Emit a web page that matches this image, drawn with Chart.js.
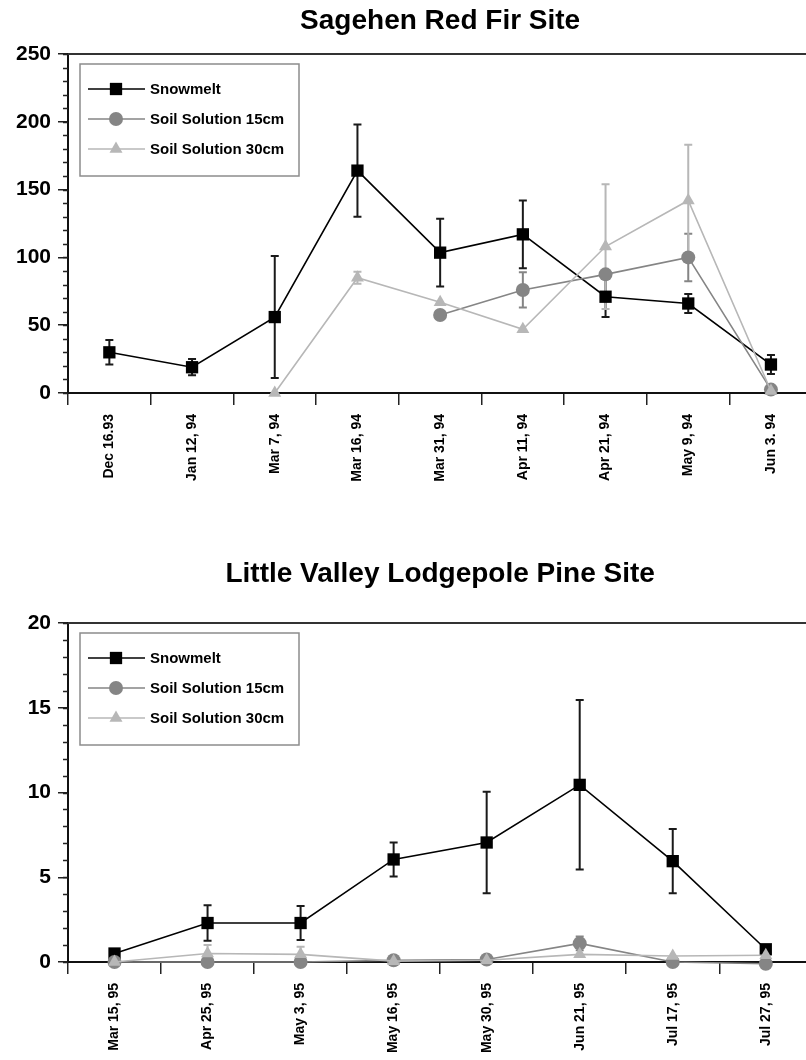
<!DOCTYPE html>
<html lang="en">
<head>
    <meta charset="UTF-8">
    <title>Sagehen / Little Valley</title>
    <script src="https://cdn.jsdelivr.net/npm/chart.js"></script>
    <style>
        body {
            margin: 0;
            background: #fff;
            font-family: "Liberation Sans", Arial, sans-serif;
        }
        .wrap {
            width: 806px;
            height: 530px;
            overflow: hidden;
        }
        canvas {
            display: block;
        }
    </style>
</head>
<body>
    <div class="wrap"><canvas id="sagehen" width="821" height="530" style="width:821px;height:530px"></canvas></div>
    <div class="wrap"><canvas id="littleValley" width="821" height="530" style="width:821px;height:530px"></canvas></div>
    <script>
        const seriesNames = ['Snowmelt', 'Soil Solution 15cm', 'Soil Solution 30cm'];

        // Sagehen Red Fir Site
        const sageDates = ['Dec 16.93', 'Jan 12, 94', 'Mar 7, 94', 'Mar 16, 94', 'Mar 31, 94',
                           'Apr 11, 94', 'Apr 21, 94', 'May 9, 94', 'Jun 3. 94'];
        const sageSnow = [30, 19, 56, 164, 103.5, 117, 71, 66, 21];
        const sageSnowErr = [9, 6, 45, 34, 25, 25, 15, 7, 7];
        const sageSoil15 = [null, null, null, null, 57.5, 76, 87.5, 100, 2.5];
        const sageSoil15Err = [null, null, null, null, 0, 13, 0, 17.5, 0];
        const sageSoil30 = [null, null, 0, 85, 67, 47, 108, 142, 1.5];
        const sageSoil30Err = [null, null, 0, 4.5, 0, 0, 46, 41, 0];
        const sageTicks = [0, 50, 100, 150, 200, 250];

        // Little Valley Lodgepole Pine Site
        const lvDates = ['Mar 15, 95', 'Apr 25, 95', 'May 3, 95', 'May 16, 95',
                         'May 30, 95', 'Jun 21, 95', 'Jul 17, 95', 'Jul 27, 95'];
        const lvSnow = [0.5, 2.3, 2.3, 6.05, 7.05, 10.45, 5.95, 0.75];
        const lvSnowErr = [0, 1.05, 1.0, 1.0, 3.0, 5.0, 1.9, 0];
        const lvSoil15 = [0, 0, 0, 0.1, 0.15, 1.1, 0, -0.1];
        const lvSoil15Err = [0, 0, 0, 0, 0, 0.4, 0, 0];
        const lvSoil30 = [0, 0.5, 0.45, 0.05, 0.1, 0.45, 0.35, 0.4];
        const lvSoil30Err = [0, 0.5, 0.45, 0, 0, 0, 0, 0];
        const lvTicks = [0, 5, 10, 15, 20];

        const FONT = '"Liberation Sans", Arial, sans-serif';
        const colors = ['#000000', '#858585', '#b7b7b7'];
        const styles = [
            { pointStyle: 'rect', radius: 8.7 },
            { pointStyle: 'circle', radius: 7 },
            { pointStyle: 'triangle', radius: 7.5 }
        ];

        // title, frame, minor ticks, error bars and the boxed legend
        const deco = {
            id: 'deco',
            beforeDatasetsDraw(chart, args, opts) {
                const ctx = chart.ctx;
                const y = chart.scales.y;
                ctx.save();
                chart.data.datasets.forEach((ds, i) => {
                    const meta = chart.getDatasetMeta(i);
                    ds.data.forEach((v, j) => {
                        const e = ds.err[j];
                        if (v == null || !e) return;
                        const x = meta.data[j].x;
                        const yTop = y.getPixelForValue(v + e);
                        const yBot = y.getPixelForValue(v - e);
                        ctx.strokeStyle = i === 0 ? '#1a1a1a' : ds.borderColor;
                        ctx.lineWidth = 2;
                        ctx.beginPath();
                        ctx.moveTo(x, yTop);
                        ctx.lineTo(x, yBot);
                        ctx.moveTo(x - 4, yTop);
                        ctx.lineTo(x + 4, yTop);
                        ctx.moveTo(x - 4, yBot);
                        ctx.lineTo(x + 4, yBot);
                        ctx.stroke();
                    });
                });
                ctx.restore();
            },
            afterDraw(chart, args, opts) {
                const ctx = chart.ctx;
                const area = chart.chartArea;
                const y = chart.scales.y;
                ctx.save();

                // title, centred over the plot
                ctx.fillStyle = '#000';
                ctx.font = 'bold 28px ' + FONT;
                ctx.textAlign = 'center';
                ctx.textBaseline = 'middle';
                ctx.fillText(opts.title, (area.left + area.right) / 2, opts.titleY);

                // top frame line
                ctx.strokeStyle = '#333';
                ctx.lineWidth = 2;
                ctx.beginPath();
                ctx.moveTo(area.left, area.top);
                ctx.lineTo(area.right, area.top);
                ctx.stroke();

                // minor ticks on the y axis
                ctx.strokeStyle = '#222';
                ctx.lineWidth = 1.5;
                ctx.beginPath();
                for (let v = y.min; v <= y.max; v += opts.minor) {
                    const py = Math.round(y.getPixelForValue(v)) + 0.5;
                    ctx.moveTo(area.left - 5, py);
                    ctx.lineTo(area.left, py);
                }
                ctx.stroke();

                // legend box
                const lx = area.left + 12, ly = area.top + 10;
                ctx.fillStyle = '#fff';
                ctx.fillRect(lx, ly, 219, 112);
                ctx.strokeStyle = '#8c8c8c';
                ctx.lineWidth = 1.5;
                ctx.strokeRect(lx, ly, 219, 112);
                chart.data.datasets.forEach((ds, i) => {
                    const ry = ly + 25 + i * 30;
                    ctx.strokeStyle = ds.borderColor;
                    ctx.lineWidth = 1.5;
                    ctx.beginPath();
                    ctx.moveTo(lx + 8, ry);
                    ctx.lineTo(lx + 65, ry);
                    ctx.stroke();
                    ctx.fillStyle = ds.borderColor;
                    Chart.helpers.drawPoint(ctx, {
                        pointStyle: ds.pointStyle,
                        radius: ds.pointRadius,
                        borderWidth: 0,
                        rotation: 0
                    }, lx + 36, ry);
                    ctx.fillStyle = '#000';
                    ctx.font = 'bold 15px ' + FONT;
                    ctx.textAlign = 'left';
                    ctx.textBaseline = 'middle';
                    ctx.fillText(ds.label, lx + 70, ry + 1);
                });
                ctx.restore();
            }
        };

        function makeChart(id, cfg) {
            const values = [cfg.snow, cfg.soil15, cfg.soil30];
            const errs = [cfg.snowErr, cfg.soil15Err, cfg.soil30Err];
            const datasets = seriesNames.map((name, i) => ({
                label: name,
                data: values[i],
                err: errs[i],
                borderColor: colors[i],
                backgroundColor: colors[i],
                pointBackgroundColor: colors[i],
                pointBorderWidth: 0,
                borderWidth: 1.6,
                pointStyle: styles[i].pointStyle,
                pointRadius: styles[i].radius,
                pointHoverRadius: styles[i].radius,
                tension: 0,
                spanGaps: false,
                clip: false,
                order: 3 - i
            }));

            return new Chart(document.getElementById(id), {
                type: 'line',
                data: { labels: cfg.dates, datasets: datasets },
                options: {
                    responsive: false,
                    animation: false,
                    layout: { padding: { top: cfg.top, left: 0, right: 1, bottom: 0 } },
                    scales: {
                        x: {
                            type: 'category',
                            offset: true,
                            grid: {
                                offset: true,
                                drawOnChartArea: false,
                                drawTicks: true,
                                tickLength: 12,
                                color: '#222',
                                lineWidth: 1.5
                            },
                            border: { color: '#111', width: 2 },
                            ticks: {
                                autoSkip: false,
                                minRotation: 90,
                                maxRotation: 90,
                                padding: 9,
                                color: '#000',
                                font: { family: FONT, size: 14, weight: 'bold' }
                            },
                            afterFit: s => {
                                s.height = cfg.xHeight;
                                s.paddingLeft = 0;
                                s.paddingRight = 0;
                            }
                        },
                        y: {
                            min: cfg.yTicks[0],
                            max: cfg.yTicks[cfg.yTicks.length - 1],
                            afterBuildTicks: s => { s.ticks = cfg.yTicks.map(v => ({ value: v })); },
                            grid: {
                                drawOnChartArea: false,
                                drawTicks: true,
                                tickLength: 10,
                                color: '#222',
                                lineWidth: 1.5
                            },
                            border: { color: '#111', width: 2 },
                            ticks: {
                                padding: 7,
                                color: '#000',
                                font: { family: FONT, size: 21, weight: 'bold' }
                            },
                            afterFit: s => {
                                s.width = 68;
                                s.paddingTop = 0;
                                s.paddingBottom = 0;
                            }
                        }
                    },
                    plugins: {
                        legend: { display: false },
                        tooltip: { enabled: false },
                        title: { display: false },
                        deco: { title: cfg.title, titleY: cfg.titleY, minor: cfg.minor }
                    }
                },
                plugins: [deco]
            });
        }

        makeChart('sagehen', {
            title: 'Sagehen Red Fir Site',
            titleY: 21,
            top: 54,
            xHeight: 137,
            minor: 10,
            dates: sageDates,
            yTicks: sageTicks,
            snow: sageSnow, snowErr: sageSnowErr,
            soil15: sageSoil15, soil15Err: sageSoil15Err,
            soil30: sageSoil30, soil30Err: sageSoil30Err
        });

        makeChart('littleValley', {
            title: 'Little Valley Lodgepole Pine Site',
            titleY: 44,
            top: 93,
            xHeight: 98,
            minor: 1,
            dates: lvDates,
            yTicks: lvTicks,
            snow: lvSnow, snowErr: lvSnowErr,
            soil15: lvSoil15, soil15Err: lvSoil15Err,
            soil30: lvSoil30, soil30Err: lvSoil30Err
        });
    </script>
</body>
</html>
